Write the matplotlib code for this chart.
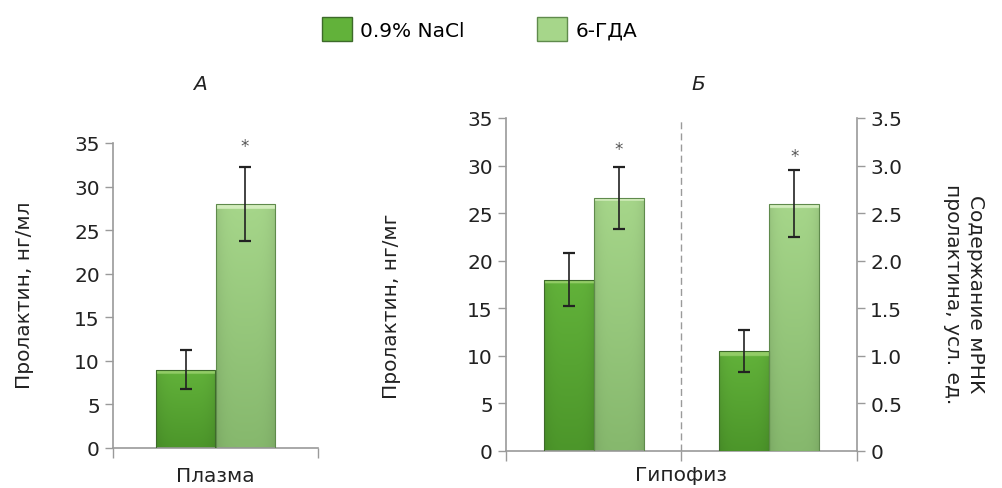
import numpy as np
import matplotlib
matplotlib.use("Agg")
import matplotlib.pyplot as plt
from matplotlib.patches import Patch
from matplotlib.colors import to_rgb

plt.rcParams['font.family'] = ['DejaVu Sans']

# data
groups = ["0.9% NaCl", "6-ГДА"]
plasma_mean = [9.0, 28.0]
plasma_err = [2.2, 4.3]
pit_mean = [18.0, 26.6]
pit_err = [2.8, 3.3]
mrna_mean = [1.05, 2.6]
mrna_err = [0.22, 0.35]
stars_plasma = [None, 34.6]
stars_pit = [None, 31.7]
stars_mrna = [None, 3.1]
left_ticks = [0, 5, 10, 15, 20, 25, 30, 35]
right_ticks = [0, 0.5, 1.0, 1.5, 2.0, 2.5, 3.0, 3.5]
right_labels = ["0", "0.5", "1.0", "1.5", "2.0", "2.5", "3.0", "3.5"]

# colours: (bevel, top, bottom, edge)
styles = [("#92cc66", "#62b23a", "#4c962a", "#3d6a2a"),
          ("#d3edbd", "#a6d68a", "#86b86d", "#5f8a4c")]
grey = "#9a9a9a"
txt = "#222222"
FS = 14.5
W, H = 1003, 489


def grad_bar(ax, rect, st):
    bevel, top, bot, _ = st
    x0, y0 = rect.get_x(), rect.get_y()
    w, h = rect.get_width(), rect.get_height()
    n = 200
    t = np.linspace(0, 1, n)[:, None]
    img = (1 - t) * np.array(to_rgb(top)) + t * np.array(to_rgb(bot))
    img = img[:, None, :].repeat(40, axis=1)
    # slight shading at the sides
    sx = np.linspace(-1, 1, 40)
    shade = 1 - 0.08 * sx ** 4
    img = img * shade[None, :, None]
    # bevel at the top (a few pixels)
    px_per_unit = ax.transData.transform((0, 1))[1] - ax.transData.transform((0, 0))[1]
    bev = min(5.0 / (px_per_unit * h), 0.2)
    k = int(bev * n)
    if k > 0:
        img[:k] = np.array(to_rgb(bevel))
    im = ax.imshow(np.clip(img, 0, 1), extent=(x0, x0 + w, y0, y0 + h),
                   origin="upper", aspect="auto", zorder=2, interpolation="bilinear")
    im.set_clip_path(rect)


def draw_bars(ax, xs, means, errs, width, stars):
    for i, (x, m, e) in enumerate(zip(xs, means, errs)):
        st = styles[i]
        b = ax.bar(x, m, width, color="none", edgecolor=st[3], linewidth=0.8, zorder=3)[0]
        grad_bar(ax, b, st)
        ax.errorbar(x, m, yerr=e, fmt="none", ecolor="#222222", elinewidth=1.2,
                    capsize=4, capthick=1.6, zorder=4)
        if stars[i] is not None:
            ax.text(x, stars[i], "*", ha="center", va="center", fontsize=12,
                    color="#555555", zorder=5)


def style_axis(ax):
    for s in ["top", "right"]:
        ax.spines[s].set_visible(False)
    for s in ["left", "bottom"]:
        ax.spines[s].set_color(grey)
        ax.spines[s].set_linewidth(1.2)
    ax.tick_params(axis="both", colors=grey, length=6, width=1.0, labelsize=FS,
                   labelcolor=txt)
    ax.tick_params(axis="x", labelbottom=False, length=7)


fig = plt.figure(figsize=(W / 100, H / 100), dpi=100)

# panel A
axA = fig.add_axes([113 / W, 1 - 449 / H, 205 / W, 305 / H])
style_axis(axA)
bw = 0.288
axA.set_xlim(0, 1)
axA.set_ylim(0, 35)
draw_bars(axA, [0.5 - bw / 2, 0.5 + bw / 2], plasma_mean, plasma_err, bw, stars_plasma)
axA.set_xlim(0, 1)
axA.set_ylim(0, 35)
axA.set_yticks(left_ticks)
axA.set_xticks([0, 1])
axA.set_xlabel("Плазма", fontsize=FS, labelpad=6, color=txt)
fig.text(25 / W, 1 - 295 / H, "Пролактин, нг/мл", rotation=90, ha="center", va="center",
         fontsize=FS, color=txt)

# panel B
axB = fig.add_axes([506 / W, 1 - 452 / H, 351 / W, 333 / H])
style_axis(axB)
bw = 0.285
axB.set_xlim(0, 2)
axB.set_ylim(0, 35)
draw_bars(axB, [0.5 - bw / 2, 0.5 + bw / 2], pit_mean, pit_err, bw, stars_pit)
axB.set_xlim(0, 2)
axB.set_ylim(0, 35)
axB.set_yticks(left_ticks)
axB.set_xticks([0, 1, 2])
axB.axvline(1, color=grey, lw=1.0, ls=(0, (5, 3)), zorder=1)
axB.set_xlabel("Гипофиз", fontsize=FS, labelpad=3, color=txt)
fig.text(392 / W, 1 - 306 / H, "Пролактин, нг/мг", rotation=90, ha="center", va="center",
         fontsize=FS, color=txt)

axR = axB.twinx()
axR.set_position(axB.get_position())
for s in ["top", "left", "bottom"]:
    axR.spines[s].set_visible(False)
axR.spines["right"].set_color(grey)
axR.spines["right"].set_linewidth(1.2)
axR.tick_params(axis="y", colors=grey, length=6, width=1.0, labelsize=FS, labelcolor=txt)
axR.set_xlim(0, 2)
axR.set_ylim(0, 3.5)
draw_bars(axR, [1.5 - bw / 2, 1.5 + bw / 2], mrna_mean, mrna_err, bw, stars_mrna)
axR.set_xlim(0, 2)
axR.set_ylim(0, 3.5)
axR.set_yticks(right_ticks, right_labels)
fig.text(964 / W, 1 - 294 / H, "Содержание мРНК\nпролактина, усл. ед.", rotation=-90,
         ha="center", va="center", fontsize=FS, color=txt, linespacing=1.25,
         multialignment="center")

# titles
fig.text(200 / W, 1 - 85 / H, "А", fontsize=FS, style="italic", ha="center", va="center",
         color=txt)
fig.text(698 / W, 1 - 85 / H, "Б", fontsize=FS, style="italic", ha="center", va="center",
         color=txt)

# legend
handles = [Patch(facecolor=styles[i][1], edgecolor=styles[i][3], label=groups[i])
           for i in range(2)]
fig.legend(handles=handles, loc="center", bbox_to_anchor=(0.478, 1 - 30 / H), ncol=2,
           frameon=False, fontsize=FS, handlelength=1.5, handleheight=1.5,
           handletextpad=0.4, columnspacing=3.6)

fig.savefig("out.png", dpi=100)
